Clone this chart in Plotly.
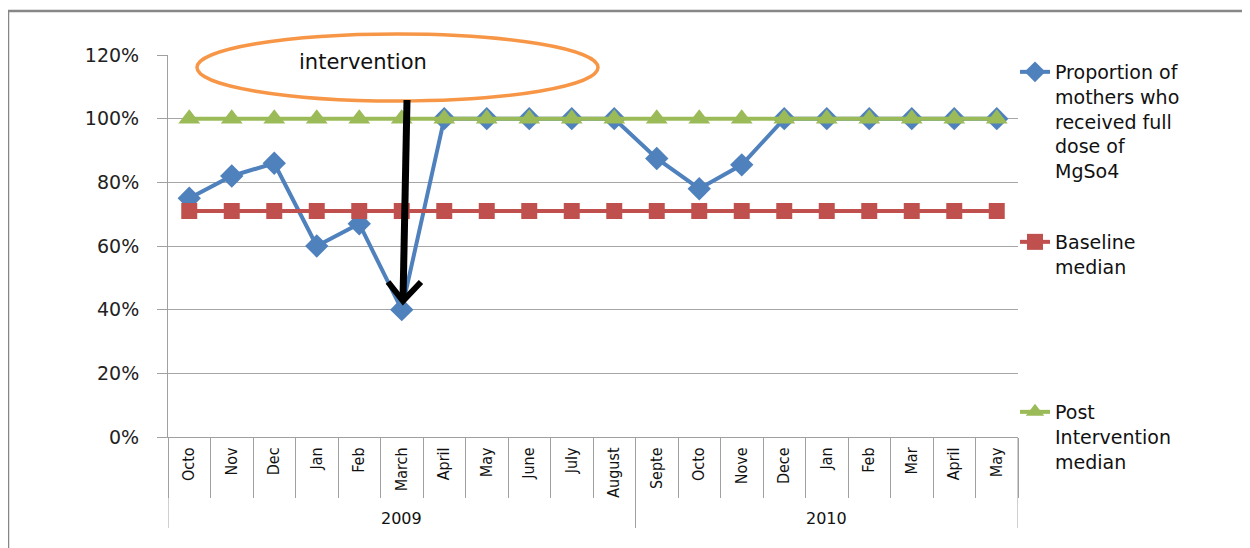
import plotly.graph_objects as go

months = ["Octo", "Nov", "Dec", "Jan", "Feb", "March", "April", "May", "June", "July", "August",
          "Septe", "Octo", "Nove", "Dece", "Jan", "Feb", "Mar", "April", "May"]
year_labels = ["2009", "2010"]
year_spans = [(0, 10), (11, 19)]
proportion = [0.75, 0.82, 0.86, 0.60, 0.67, 0.40, 1.0, 1.0, 1.0, 1.0, 1.0,
              0.875, 0.78, 0.855, 1.0, 1.0, 1.0, 1.0, 1.0, 1.0]
baseline = [0.71] * 20
post = [1.0] * 20
y_ticks = [0, 0.2, 0.4, 0.6, 0.8, 1.0, 1.2]

OFF = 8  # page body margin
W, H = 1250 - OFF, 548 - OFF
# plot-area edges in reference (screen) pixels
L, R, T, B = 168, 1018, 55, 437

def px(x):
    return (x - L) / (R - L)

def py(y):
    return (B - y) / (B - T)

idx = list(range(len(months)))
fig = go.Figure()
fig.add_trace(go.Scatter(x=idx, y=proportion, mode="lines+markers",
                         name="Proportion of<br>mothers who<br>received full<br>dose of<br>MgSo4",
                         line=dict(color="#4F81BD", width=4), marker=dict(symbol="diamond", size=18, color="#4F81BD"),
                         legend="legend"))
fig.add_trace(go.Scatter(x=idx, y=baseline, mode="lines+markers", name="Baseline<br>median",
                         line=dict(color="#C0504D", width=4), marker=dict(symbol="square", size=16, color="#C0504D"),
                         legend="legend2"))
fig.add_trace(go.Scatter(x=idx, y=post, mode="lines+markers", name="Post<br>Intervention<br>median",
                         line=dict(color="#9BBB59", width=4), marker=dict(symbol="triangle-up", size=19, color="#9BBB59"),
                         legend="legend3"))

legfont = dict(family="DejaVu Sans", size=19, color="#111111")
common = dict(font=legfont, bgcolor="rgba(0,0,0,0)", xanchor="left", yanchor="top",
              tracegroupgap=0, borderwidth=0, valign="top")

axcol = "#A0A0A0"
fig.update_layout(
    width=W, height=H,
    margin=dict(l=L - OFF, r=W - (R - OFF), t=T - OFF, b=H - (B - OFF), autoexpand=False),
    paper_bgcolor="white", plot_bgcolor="white",
    showlegend=True,
    legend=dict(x=px(1015), y=py(53), **common),
    legend2=dict(x=px(1015), y=py(223), **common),
    legend3=dict(x=px(1015), y=py(393), **common),
    xaxis=dict(range=[-0.5, 19.5], tickmode="array", tickvals=idx, ticktext=months, tickangle=-90,
               ticks="", ticklabelstandoff=3, automargin=False,
               minor=dict(tickmode="linear", tick0=-0.5, dtick=1, ticks="outside", ticklen=60,
                          tickcolor=axcol, tickwidth=1, showgrid=False),
               tickfont=dict(family="DejaVu Sans Condensed", size=16, color="#111111"),
               showline=True, linecolor=axcol, linewidth=1, showgrid=False, zeroline=False),
    yaxis=dict(range=[0, 1.2], tickvals=y_ticks, tickformat=".0%", showgrid=True, gridcolor="#A6A6A6",
               gridwidth=1, showline=True, linecolor=axcol, ticks="outside", ticklen=10,
               tickcolor=axcol, tickfont=dict(family="DejaVu Sans", size=19, color="#222222"),
               zeroline=False, ticklabelstandoff=14, automargin=False),
)

# year group dividers and labels
bounds = [year_spans[0][0] - 0.5, year_spans[0][1] + 0.5, year_spans[1][1] + 0.5]
for b in bounds:
    fig.add_shape(type="line", xref="x", yref="paper", x0=b, x1=b, y0=0, y1=py(528),
                  line=dict(color=axcol, width=1))
for lab, (a, b) in zip(year_labels, year_spans):
    fig.add_annotation(xref="x", yref="paper", x=(a + b) / 2, y=py(518), text=lab, showarrow=False,
                       xanchor="center", yanchor="middle",
                       font=dict(family="DejaVu Sans", size=16, color="#111111"))

# outer chart frame
fig.add_shape(type="rect", xref="paper", yref="paper", x0=px(8), x1=px(1270), y0=py(580), y1=py(11),
              line=dict(color="#878787", width=2.5), fillcolor="rgba(0,0,0,0)", layer="below")

# intervention ellipse
fig.add_shape(type="circle", xref="paper", yref="paper", x0=px(197), x1=px(598), y0=py(101), y1=py(34),
              line=dict(color="#F79646", width=3.5), fillcolor="white", layer="above")
fig.add_annotation(xref="paper", yref="paper", x=px(363), y=py(62), text="intervention", showarrow=False,
                   xanchor="center", yanchor="middle",
                   font=dict(family="DejaVu Sans", size=21, color="#111111"))

# arrow
fig.add_shape(type="path", xref="paper", yref="paper",
              path=f"M {px(407)} {py(100)} L {px(403)} {py(300)}",
              line=dict(color="black", width=7), layer="above")
fig.add_shape(type="path", xref="paper", yref="paper",
              path=f"M {px(388)} {py(282)} L {px(403)} {py(301)} L {px(421)} {py(282)}",
              line=dict(color="black", width=6), layer="above")

fig.write_html("out.html")
